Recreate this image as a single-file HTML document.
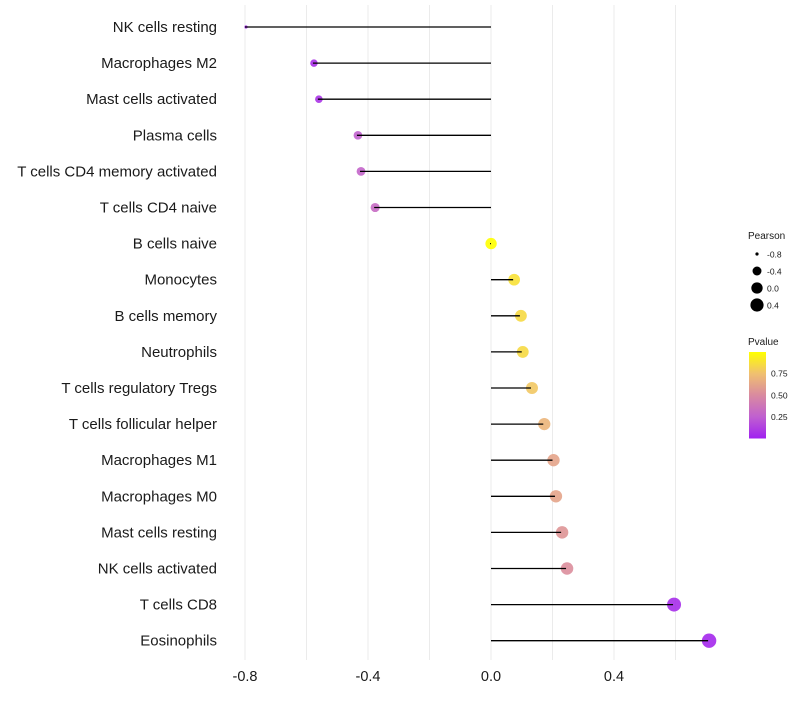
<!DOCTYPE html>
<html><head><meta charset="utf-8"><style>
body{margin:0;background:#fff;font-family:"Liberation Sans",sans-serif}
</style></head><body>
<svg id="chart" width="800" height="700" xmlns="http://www.w3.org/2000/svg">
<g id="grid"></g><g id="marks"></g><g id="labels"></g><g id="xaxis"></g>
<g id="legend">
<text x="748" y="239" font-size="10" fill="#1a1a1a">Pearson</text>
<g id="sizeLegend"></g>
<text x="748" y="345" font-size="10" fill="#1a1a1a">Pvalue</text>
<defs><linearGradient id="pg" x1="0" y1="1" x2="0" y2="0">
<stop offset="0" stop-color="#a020f0"/><stop offset="0.25" stop-color="#c060d0"/><stop offset="0.5" stop-color="#d98aa0"/><stop offset="0.75" stop-color="#f0c070"/><stop offset="1" stop-color="#ffff00"/></linearGradient></defs>
<rect x="749" y="352" width="17" height="86.5" fill="url(#pg)"/>
<g id="cbTicks"></g>
</g>
</svg>
<script>
const categories=["NK cells resting","Macrophages M2","Mast cells activated","Plasma cells","T cells CD4 memory activated","T cells CD4 naive","B cells naive","Monocytes","B cells memory","Neutrophils","T cells regulatory  Tregs ","T cells follicular helper","Macrophages M1","Macrophages M0","Mast cells resting","NK cells activated","T cells CD8","Eosinophils"];
const pearson=[-0.80,-0.579,-0.563,-0.436,-0.426,-0.38,-0.003,0.072,0.094,0.10,0.13,0.17,0.20,0.208,0.228,0.244,0.592,0.706];
const pvalue=[0.02,0.06,0.08,0.26,0.28,0.32,1.0,0.88,0.85,0.85,0.78,0.7,0.62,0.62,0.55,0.52,0.05,0.03];
const xTicks=[-0.8,-0.4,0.0,0.4];
const xMinor=[-0.6,-0.2,0.2,0.6];
const sizeLegendVals=[-0.8,-0.4,0.0,0.4];
const cbTickVals=[0.25,0.5,0.75];
const NS="http://www.w3.org/2000/svg";
const X=v=>491+v*307.5;
const Y=i=>27+i*36.1;
const pMin=Math.min(...pearson),pMax=Math.max(...pearson);
const R=v=>{const t=Math.max(0,Math.min(1,(v-pMin)/(pMax-pMin)));return 1.6+5.6*Math.sqrt(t);};
const stops=[[0,[160,32,240]],[0.25,[192,96,208]],[0.5,[217,138,160]],[0.75,[240,192,112]],[1,[255,255,0]]];
function col(p){for(let i=0;i<stops.length-1;i++){const a=stops[i],b=stops[i+1];if(p<=b[0]){const t=(p-a[0])/(b[0]-a[0]);const c=a[1].map((x,k)=>Math.round(x+(b[1][k]-x)*t));return `rgb(${c})`;}}return "rgb(255,255,0)";}
function mk(t,a,parent){const e=document.createElementNS(NS,t);for(const k in a)e.setAttribute(k,a[k]);document.getElementById(parent).appendChild(e);return e;}
xTicks.concat(xMinor).forEach(v=>{const l=mk("line",{x1:X(v),x2:X(v),y1:5,y2:660,stroke:"#ebebeb","stroke-width":1},"grid");

});
categories.forEach((c,i)=>{
const p=mk("circle",{cx:X(pearson[i])+1,cy:Y(i),r:R(pearson[i]),fill:col(pvalue[i]),"fill-opacity":0.9},"marks");


const s=mk("line",{x1:X(pearson[i]),x2:X(0),y1:Y(i),y2:Y(i),stroke:"#000","stroke-width":1.3},"marks");


const t=mk("text",{x:217,y:Y(i)+5,"text-anchor":"end","font-size":15,fill:"#1a1a1a"},"labels");t.textContent=c;


});
xTicks.forEach(v=>{const t=mk("text",{x:X(v),y:681,"text-anchor":"middle","font-size":14.5,fill:"#1a1a1a"},"xaxis");t.textContent=v.toFixed(1);

});
sizeLegendVals.forEach((v,i)=>{const c=mk("circle",{cx:757,cy:254+i*17,r:R(v),fill:"#000"},"sizeLegend");


const t=mk("text",{x:767,y:257.5+i*17,"font-size":8.5,fill:"#1a1a1a"},"sizeLegend");t.textContent=v.toFixed(1);

});
cbTickVals.forEach(v=>{const y=438.5-v*86.5;
const t=mk("text",{x:771,y:y+3,"font-size":8.5,fill:"#1a1a1a"},"cbTicks");t.textContent=v.toFixed(2);

});
</script>
</body></html>
